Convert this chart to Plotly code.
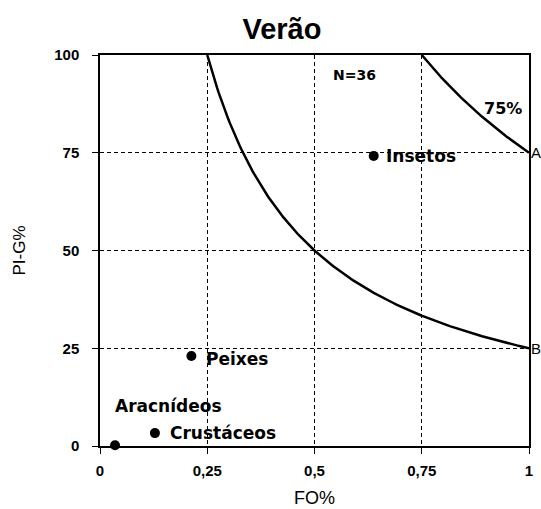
import numpy as np
import plotly.graph_objects as go

# ---- data ----
categories = ["Insetos", "Peixes", "Crustáceos", "Aracnídeos"]
fo_values = [0.638, 0.213, 0.128, 0.035]      # FO% (fraction)
pig_values = [74.2, 23.0, 3.3, 0.2]           # PI-G%
isoline_levels = [25, 75]                     # isolines FO * PI-G = level
x_tick_vals = [0, 0.25, 0.5, 0.75, 1]
x_tick_text = ["0", "0,25", "0,5", "0,75", "1"]
y_tick_vals = [0, 25, 50, 75, 100]
title_text = "Verão"
n_text = "N=36"

# ---- label placement (pixel offsets, styles) ----
label_offsets = {
    "Insetos": (10, 0),
    "Peixes": (13, -3),
    "Crustáceos": (13, 0),
    "Aracnídeos": (-2, 39),
}

fig = go.Figure()

# isolines
for lvl in isoline_levels:
    xs = np.linspace(lvl / 100.0, 1.0, 200)
    ys = lvl / xs
    fig.add_trace(go.Scatter(x=xs, y=ys, mode="lines",
                             line=dict(color="black", width=2.5),
                             showlegend=False, hoverinfo="skip"))

# points
fig.add_trace(go.Scatter(x=fo_values, y=pig_values, mode="markers",
                         marker=dict(color="black", size=10),
                         cliponaxis=False, showlegend=False))

label_font = dict(family="DejaVu Sans", size=17, color="black", weight="bold")
for cat, xv, yv in zip(categories, fo_values, pig_values):
    dx, dy = label_offsets[cat]
    fig.add_annotation(x=xv, y=yv, text=cat, showarrow=False,
                       xanchor="left", yanchor="middle",
                       xshift=dx, yshift=dy, font=label_font)

# other texts
fig.add_annotation(x=0.594, y=94.9, text=n_text, showarrow=False,
                   font=dict(family="DejaVu Sans", size=14, color="black", weight="bold"))
fig.add_annotation(x=0.94, y=86.4, text=f"{isoline_levels[1]}%", showarrow=False,
                   font=dict(family="DejaVu Sans", size=16, color="black", weight="bold"))
fig.add_annotation(x=1, y=isoline_levels[1], text="A", showarrow=False,
                   xanchor="left", xshift=0,
                   font=dict(family="Liberation Sans", size=15, color="black"))
fig.add_annotation(x=1, y=isoline_levels[0], text="B", showarrow=False,
                   xanchor="left", xshift=0,
                   font=dict(family="Liberation Sans", size=15, color="black"))

tick_font = dict(family="Liberation Sans", size=15, color="black", weight="bold")
axis_common = dict(
    showline=True, linecolor="black", linewidth=1.5, mirror=True,
    showgrid=True, gridcolor="black", gridwidth=1, griddash="4px,3px",
    zeroline=False, ticks="outside", ticklen=6, tickcolor="black",
    tickwidth=1, tickfont=tick_font, automargin=False,
)

fig.update_xaxes(range=[0, 1], tickvals=x_tick_vals, ticktext=x_tick_text,
                 title=dict(text="FO%", font=dict(family="Liberation Sans", size=18, color="black"),
                            standoff=14),
                 ticklabelstandoff=4, **axis_common)
fig.update_yaxes(range=[0, 100], tickvals=y_tick_vals,
                 title=dict(text="PI-G%", font=dict(family="Liberation Sans", size=17, color="black"),
                            standoff=24),
                 ticklabelstandoff=10, **axis_common)

fig.update_layout(
    width=541, height=509,
    margin=dict(l=100, r=12, t=55, b=63),
    plot_bgcolor="white", paper_bgcolor="white",
    title=dict(text=title_text, x=0.424, xref="paper", xanchor="center",
               y=1 - 29 / 509, yref="container", yanchor="middle",
               font=dict(family="Liberation Sans", size=29, color="black", weight="bold")),
    showlegend=False,
)

# remove the default page margin so the figure fills the 541x509 window
fig.write_html("out.html",
               config={"displayModeBar": False},
               post_script="document.body.style.margin='0';document.body.style.overflow='hidden';")
